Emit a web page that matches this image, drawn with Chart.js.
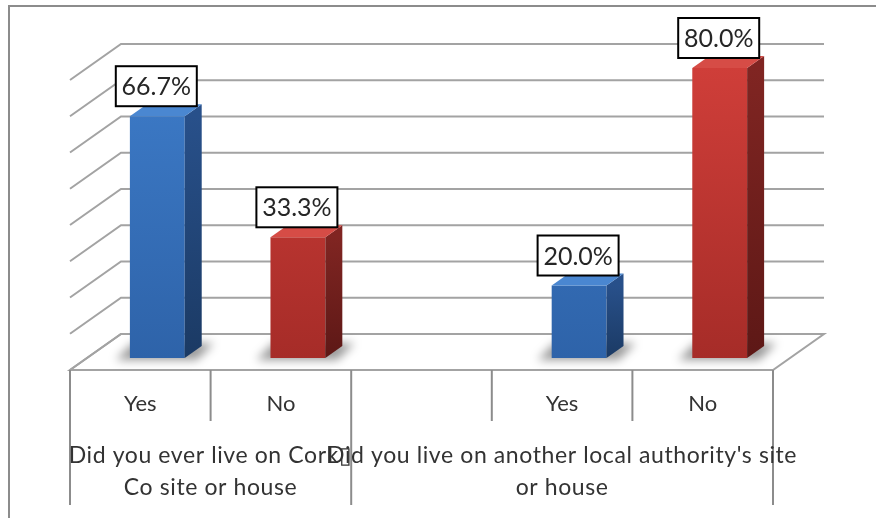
<!DOCTYPE html>
<html>
<head>
<meta charset="utf-8">
<script src="https://cdn.jsdelivr.net/npm/chart.js@4.4.0/dist/chart.umd.min.js"></script>
<style>
  html, body { margin: 0; padding: 0; background: #fff; }
  #wrap { width: 876px; height: 518px; }
</style>
</head>
<body>
<div id="wrap"><canvas id="chart" width="876" height="518"></canvas></div>
<script>
const categories = ['Yes', 'No', '', 'Yes', 'No'];
const percentValues = [66.7, 33.3, null, 20.0, 80.0];
const barColors = ['blue', 'red', null, 'blue', 'red'];
// the first caption carries a stray line-break character that renders as a box
const groupLabels = [
  ['Did you ever live on Cork\u25AF', 'Co site or house'],
  ["Did you live on another local authority's site", 'or house']
];
const groupSpans = [[0, 1], [2, 4]];
const yTicks = [0, 10, 20, 30, 40, 50, 60, 70, 80];

const shades = {
  blue: { top: '#4a87d1', frontTop: '#3d7bc8', frontBottom: '#2e63a9', sideTop: '#28508a', sideBottom: '#1b3a64' },
  red:  { top: '#d64c46', frontTop: '#cf3e39', frontBottom: '#a62c28', sideTop: '#802522', sideBottom: '#5d1816' }
};

// floor depth (back wall offset from the front plane) and bar offset/depth
const DX = 51, DY = -36;
const BX = DX / 3, BY = DY / 3;
const GRID = '#a3a3a3';
const TABLE = '#8c8c8c';

function poly(ctx, pts) {
  ctx.beginPath();
  ctx.moveTo(pts[0][0], pts[0][1]);
  for (let i = 1; i < pts.length; i++) ctx.lineTo(pts[i][0], pts[i][1]);
  ctx.closePath();
}

const box3d = {
  id: 'box3d',
  beforeDraw(chart) {
    const { ctx, chartArea: a, scales: { y } } = chart;
    ctx.save();
    ctx.fillStyle = '#fff';
    ctx.fillRect(0, 0, chart.width, chart.height);
    ctx.strokeStyle = TABLE;
    ctx.lineWidth = 2;
    ctx.strokeRect(9, 6, 900, 600);

    // floor
    ctx.strokeStyle = GRID;
    poly(ctx, [[a.left, a.bottom], [a.right, a.bottom], [a.right + DX, a.bottom + DY], [a.left + DX, a.bottom + DY]]);
    ctx.stroke();

    // back wall gridlines and left wall diagonals
    yTicks.forEach(v => {
      const py = y.getPixelForValue(v);
      ctx.beginPath();
      ctx.moveTo(a.left, py);
      ctx.lineTo(a.left + DX, py + DY);
      ctx.lineTo(a.right + DX, py + DY);
      ctx.stroke();
    });
    ctx.restore();
  },
  beforeDatasetsDraw(chart) {
    const { ctx } = chart;
    const meta = chart.getDatasetMeta(0);
    // soft floor shadows behind the bars
    ctx.save();
    ctx.filter = 'blur(5px)';
    ctx.fillStyle = 'rgba(0,0,0,0.4)';
    meta.data.forEach((bar, i) => {
      if (percentValues[i] == null) return;
      const x0 = bar.x - bar.width / 2 - 14, x1 = bar.x + bar.width / 2 + 12;
      const b = bar.base;
      poly(ctx, [[x0 + BX, b + BY + 2], [x1 + BX, b + BY + 2], [x1 + 2 * BX, b + 2 * BY - 3], [x0 + 2 * BX, b + 2 * BY - 3]]);
      ctx.fill();
    });
    ctx.restore();
    // front faces are drawn by Chart.js, pushed back into the floor
    ctx.save();
    ctx.translate(BX, BY);
  },
  afterDatasetsDraw(chart) {
    const { ctx } = chart;
    ctx.restore();
    const meta = chart.getDatasetMeta(0);
    ctx.save();
    meta.data.forEach((bar, i) => {
      const v = percentValues[i];
      if (v == null) return;
      const s = shades[barColors[i]];
      const x0 = bar.x - bar.width / 2 + BX, x1 = bar.x + bar.width / 2 + BX;
      const t = bar.y + BY, b = bar.base + BY;
      // side
      const sg = ctx.createLinearGradient(0, t, 0, b);
      sg.addColorStop(0, s.sideTop);
      sg.addColorStop(1, s.sideBottom);
      ctx.fillStyle = sg;
      poly(ctx, [[x1, t], [x1 + BX, t + BY], [x1 + BX, b + BY], [x1, b]]);
      ctx.fill();
      // top
      ctx.fillStyle = s.top;
      poly(ctx, [[x0, t], [x1, t], [x1 + BX, t + BY], [x0 + BX, t + BY]]);
      ctx.fill();

      // value label
      const w = 81, h = 40;
      const cx = bar.x + BX - 1, by = t - 10;
      ctx.fillStyle = '#fff';
      ctx.fillRect(cx - w / 2, by - h, w, h);
      ctx.strokeStyle = '#000';
      ctx.lineWidth = 2;
      ctx.strokeRect(cx - w / 2, by - h, w, h);
      ctx.fillStyle = '#262626';
      ctx.font = '25px Lato';
      ctx.textAlign = 'center';
      ctx.textBaseline = 'middle';
      ctx.fillText(v.toFixed(1) + '%', cx, by - h / 2 + 1);
    });
    ctx.restore();
  },
  afterDraw(chart) {
    const { ctx, chartArea: a, scales: { x } } = chart;
    const cw = (a.right - a.left) / categories.length;
    const edge = i => a.left + i * cw;
    const groupEdges = new Set();
    groupSpans.forEach(([s, e]) => { groupEdges.add(s); groupEdges.add(e + 1); });
    ctx.save();
    ctx.strokeStyle = TABLE;
    ctx.lineWidth = 2;
    for (let i = 0; i <= categories.length; i++) {
      ctx.beginPath();
      ctx.moveTo(edge(i), a.bottom);
      ctx.lineTo(edge(i), groupEdges.has(i) ? 505 : 421);
      ctx.stroke();
    }
    // group captions under the Yes/No row
    ctx.fillStyle = '#333';
    ctx.font = '23px Lato';
    ctx.letterSpacing = '0.6px';
    ctx.textAlign = 'center';
    ctx.textBaseline = 'alphabetic';
    groupSpans.forEach(([s, e], g) => {
      const cx = (x.getPixelForValue(s) + x.getPixelForValue(e)) / 2;
      groupLabels[g].forEach((line, k) => ctx.fillText(line, cx, 463 + k * 32));
    });
    ctx.restore();
  }
};

new Chart(document.getElementById('chart'), {
  type: 'bar',
  data: {
    labels: categories,
    datasets: [{
      data: percentValues,
      barPercentage: 0.39,
      categoryPercentage: 1,
      borderWidth: 0,
      backgroundColor: (c) => {
        const name = barColors[c.dataIndex];
        if (!name) return 'transparent';
        const area = c.chart.chartArea;
        if (!area) return shades[name].frontTop;
        const g = c.chart.ctx.createLinearGradient(0, area.top, 0, area.bottom);
        g.addColorStop(0, shades[name].frontTop);
        g.addColorStop(1, shades[name].frontBottom);
        return g;
      }
    }]
  },
  options: {
    responsive: false,
    animation: false,
    layout: { padding: { left: 70, right: 103, top: 80, bottom: 0 } },
    plugins: { legend: { display: false }, tooltip: { enabled: false } },
    scales: {
      y: { display: false, min: 0, max: 80 },
      x: {
        grid: { display: false, drawTicks: false },
        border: { display: false },
        ticks: { color: '#333', font: { family: 'Lato', size: 22 }, padding: 21, maxRotation: 0, autoSkip: false },
        afterFit: (scale) => { scale.height = 148; }
      }
    }
  },
  plugins: [box3d]
});
</script>
</body>
</html>
